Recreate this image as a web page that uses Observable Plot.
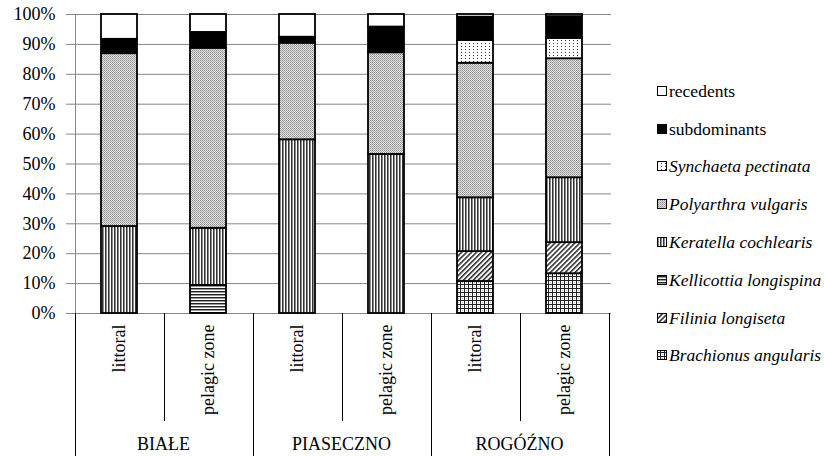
<!DOCTYPE html>
<html>
<head>
<meta charset="utf-8">
<script src="https://cdn.jsdelivr.net/npm/d3@7"></script>
<script src="https://cdn.jsdelivr.net/npm/@observablehq/plot@0.6"></script>
<style>
  html, body { margin: 0; padding: 0; background: #fff; }
  #chart svg { display: block; }
</style>
</head>
<body>
<div id="chart"></div>
<script>
// ---- data (percent shares) ----
const lakes = ["BIAŁE", "PIASECZNO", "ROGÓŹNO"];
const zones = ["littoral", "pelagic zone"];
// bottom → top stacking order
const species = [
  "Brachionus angularis",
  "Filinia longiseta",
  "Kellicottia longispina",
  "Keratella cochlearis",
  "Polyarthra vulgaris",
  "Synchaeta pectinata",
  "subdominants",
  "recedents"
];
const italicSpecies = [true, true, true, true, true, true, false, false];
const bialeLittoral      = [0,    0,    0,   29.1, 57.8, 0,   4.8, 8.3];
const bialePelagic       = [0,    0,    9.4, 19.1, 60.2, 0,   5.3, 6.0];
const piasecznoLittoral  = [0,    0,    0,   58.1, 32.3, 0,   2.0, 7.6];
const piasecznoPelagic   = [0,    0,    0,   53.2, 34.0, 0,   8.6, 4.2];
const rogoznoLittoral    = [10.7, 10.0, 0,   18.0, 45.0, 7.6, 7.8, 0.9];
const rogoznoPelagic     = [13.3, 10.4, 0,   21.7, 39.8, 6.8, 7.3, 0.7];
const yTicks = [0, 0.1, 0.2, 0.3, 0.4, 0.5, 0.6, 0.7, 0.8, 0.9, 1];

const barValues = [
  [lakes[0], zones[0], bialeLittoral],
  [lakes[0], zones[1], bialePelagic],
  [lakes[1], zones[0], piasecznoLittoral],
  [lakes[1], zones[1], piasecznoPelagic],
  [lakes[2], zones[0], rogoznoLittoral],
  [lakes[2], zones[1], rogoznoPelagic]
];
const keys = barValues.map(([l, z]) => l + "|" + z);
const data = [];
for (const [lake, zone, vals] of barValues) {
  vals.forEach((v, i) => {
    if (v > 0) data.push({key: lake + "|" + zone, lake, zone, species: species[i], value: v});
  });
}

// pattern fills (ids defined below)
const patternIds = ["p-brach", "p-filin", "p-kellic", "p-kerat", "p-polyar", "p-synch", null, null];
const fills = species.map((s, i) =>
  s === "subdominants" ? "black" : s === "recedents" ? "white" : `url(#${patternIds[i]})`);

const FONT = "'Liberation Serif', 'Times New Roman', serif";

const plot = Plot.plot({
  width: 824,
  height: 456,
  marginLeft: 72,
  marginRight: 213,
  marginTop: 14,
  marginBottom: 143,
  style: {fontFamily: FONT, fontSize: "18px", background: "white", color: "black"},
  x: {domain: keys, paddingInner: 0.6, paddingOuter: 0.3, axis: null},
  y: {domain: [0, 1], axis: null},
  color: {domain: species, range: fills},
  marks: [
    Plot.ruleY(yTicks, {stroke: "#868686", strokeWidth: 1}),
    Plot.axisY({
      ticks: yTicks, tickFormat: d3.format(".0%"), tickSize: 6, tickPadding: 11,
      stroke: "#868686", fill: "black", label: null, fontSize: 18
    }),
    Plot.barY(data, Plot.stackY({
      offset: "normalize", x: "key", y: "value", fill: "species",
      stroke: "black", strokeWidth: 1.8
    })),
    Plot.axisX({
      tickRotate: -90, tickSize: 0, tickPadding: 11,
      tickFormat: k => k.split("|")[1], label: null, fontSize: 18, fill: "black"
    })
  ]
});

const svg = d3.select(plot);

// ---- pattern definitions ----
const defs = svg.insert("defs", ":first-child");
function pat(id, w, h, draw, transform) {
  const p = defs.append("pattern").attr("id", id)
    .attr("patternUnits", "userSpaceOnUse").attr("width", w).attr("height", h);
  if (transform) p.attr("patternTransform", transform);
  draw(p);
}
// Brachionus: grid
pat("p-brach", 4, 4, p => {
  p.append("rect").attr("width", 4).attr("height", 4).attr("fill", "#fff");
  p.append("rect").attr("x", 2).attr("y", 2).attr("width", 1).attr("height", 1).attr("fill", "#bbb");
  p.append("rect").attr("width", 4).attr("height", 1).attr("fill", "#222");
  p.append("rect").attr("width", 1).attr("height", 4).attr("fill", "#222");
});
// Filinia: diagonal hatch "/"
pat("p-filin", 3.5, 10, p => {
  p.append("rect").attr("width", 3.5).attr("height", 10).attr("fill", "#fff");
  p.append("rect").attr("width", 1.6).attr("height", 10).attr("fill", "#333");
}, "rotate(45)");
// Kellicottia: horizontal lines
pat("p-kellic", 4, 3, p => {
  p.append("rect").attr("width", 4).attr("height", 3).attr("fill", "#fff");
  p.append("rect").attr("width", 4).attr("height", 1).attr("fill", "#222");
  p.append("rect").attr("y", 1).attr("width", 4).attr("height", 1).attr("fill", "#999");
});
// Keratella: vertical lines
pat("p-kerat", 3, 4, p => {
  p.append("rect").attr("width", 3).attr("height", 4).attr("fill", "#fff");
  p.append("rect").attr("width", 1).attr("height", 4).attr("fill", "#333");
  p.append("rect").attr("x", 1).attr("width", 1).attr("height", 4).attr("fill", "#8a8a8a");
});
// Polyarthra: fine grey dither
pat("p-polyar", 2, 2, p => {
  p.append("rect").attr("width", 2).attr("height", 2).attr("fill", "#e2e2e2");
  p.append("rect").attr("width", 1).attr("height", 1).attr("fill", "#8c8c8c");
  p.append("rect").attr("x", 1).attr("y", 1).attr("width", 1).attr("height", 1).attr("fill", "#a8a8a8");
});
// Synchaeta: sparse dots
pat("p-synch", 4, 3, p => {
  p.append("rect").attr("width", 4).attr("height", 3).attr("fill", "#fff");
  p.append("rect").attr("x", 1).attr("y", 1).attr("width", 1).attr("height", 1).attr("fill", "#333");
});

// ---- category dividers and group labels (positions from the x/y scales) ----
const xs = plot.scale("x");
const ys = plot.scale("y");
const gap = (xs.step - xs.bandwidth) / 2;
const leftOf = k => xs.apply(k) - gap;
const y0 = ys.apply(0), y1 = ys.apply(1);
const g = svg.append("g").attr("stroke", "black").attr("stroke-width", 1);
// y axis line
g.append("line").attr("x1", Math.round(leftOf(keys[0])) + 0.5).attr("x2", Math.round(leftOf(keys[0])) + 0.5)
  .attr("y1", y1).attr("y2", y0).attr("stroke", "#868686");
keys.forEach((k, i) => {
  const x = Math.round(leftOf(k)) + 0.5;
  const outer = i % 2 === 0;
  g.append("line").attr("x1", x).attr("x2", x).attr("y1", y0).attr("y2", outer ? 456 : 421);
});
{
  const last = keys[keys.length - 1];
  const x = Math.round(leftOf(last) + xs.step) + 0.5;
  g.append("line").attr("x1", x).attr("x2", x).attr("y1", y0).attr("y2", 456);
}
lakes.forEach((lake, i) => {
  const a = leftOf(keys[2 * i]), b = leftOf(keys[2 * i]) + 2 * xs.step;
  svg.append("text").attr("x", (a + b) / 2).attr("y", 450)
    .attr("text-anchor", "middle").attr("font-family", FONT).attr("font-size", 18)
    .attr("fill", "black").text(lake);
});

// ---- legend ----
const legend = svg.append("g").attr("font-family", FONT).attr("font-size", 17.5)
  .attr("text-anchor", "start");
const order = species.map((s, i) => i).reverse();
order.forEach((i, row) => {
  const cy = 90.7 + row * 37.8;
  legend.append("rect").attr("x", 657.5).attr("y", Math.round(cy - 5) + 0.5)
    .attr("width", 9).attr("height", 9)
    .attr("fill", fills[i]).attr("stroke", "black").attr("stroke-width", 1);
  legend.append("text").attr("x", 669).attr("y", cy).attr("dy", "0.35em")
    .attr("text-anchor", "start")
    .attr("fill", "black")
    .attr("font-style", italicSpecies[i] ? "italic" : "normal")
    .text(species[i]);
});

document.getElementById("chart").appendChild(plot);
</script>
</body>
</html>
